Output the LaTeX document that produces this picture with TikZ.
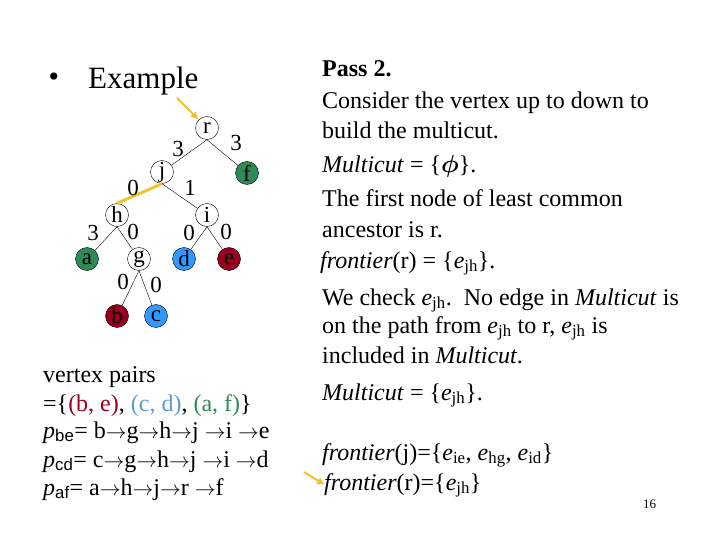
\documentclass[tikz,border=0pt]{standalone}
\usepackage{fontspec}
\setmainfont{Liberation Serif}
\setsansfont{Liberation Sans}
\usepackage{amsmath}
\usepackage{bm}
\usetikzlibrary{positioning,arrows.meta}
\definecolor{mcGreen}{HTML}{2E8B57}
\definecolor{mcBlue}{HTML}{3399FF}
\definecolor{mcRed}{HTML}{99001F}
\definecolor{mcPairBlue}{HTML}{5B9BD5}
\definecolor{mcYellow}{HTML}{F2C12E}
\newcommand{\esub}[1]{\textit{e}\textsubscript{#1}}
\newcommand{\psub}[1]{\textit{p}\textsubscript{\sffamily #1}}
\newcommand{\ar}{{\fontsize{20}{20}\selectfont$\rightarrow$}}
\tikzset{
    mcVertex/.style={
        circle,
        draw,
        thin,
        minimum size=23pt,
        inner sep=0pt,
        font=\fontsize{23}{23}\selectfont
    },
    % Leaf Variants
    leafAF/.style={mcVertex, fill=mcGreen},
    leafCD/.style={mcVertex, fill=mcBlue},
    leafBE/.style={mcVertex, fill=mcRed},
    % Labels
    mcWeight/.style={font=\fontsize{23}{23}\selectfont, inner sep=0pt},
    mcText/.style={anchor=base west, inner sep=0pt, font=\fontsize{24}{24}\selectfont},
    % Lines
    mcEdge/.style={draw, thin},
    mcCut/.style={draw=mcYellow, line width=3pt},
    mcPointer/.style={-{Latex[length=8pt,width=8pt]}, draw=mcYellow, line width=2pt}
}
\begin{document}
\begin{tikzpicture}[x=1pt, y=-1pt]
    \useasboundingbox (0,0) rectangle (720,540);

    % Title
    \node[font=\fontsize{30}{30}\selectfont, inner sep=0pt] (bullet) at (54,80) {•};
    \node[mcText, font=\fontsize{31}{31}\selectfont] (title) at (88,89) {Example};

    % Tree Nodes
    \node[mcVertex] (r) at (207,128) {r};
    \node[mcVertex] (j) at (162,172) {j};
    \node[leafAF] (f) at (247,173) {f};
    \node[mcVertex] (h) at (117,215) {h};
    \node[mcVertex] (i) at (207,215) {i};
    \node[leafAF] (a) at (87,259) {a};
    \node[mcVertex] (g) at (139,259) {g};
    \node[leafCD] (d) at (184,259) {d};
    \node[leafBE] (e) at (229,259) {e};
    \node[leafBE] (b) at (117,316) {b};
    \node[leafCD] (c) at (156,316) {c};

    % Tree Edges
    \draw[mcEdge] (r.south) -- (j);
    \draw[mcEdge] (r.south) -- (f);
    \draw[mcCut] (j.south) -- (h.north);
    \draw[mcEdge] (j.south) -- (i);
    \draw[mcEdge] (h.south) -- (a);
    \draw[mcEdge] (h.south) -- (g);
    \draw[mcEdge] (i.south) -- (d);
    \draw[mcEdge] (i.south) -- (e);
    \draw[mcEdge] (g.south) -- (b);
    \draw[mcEdge] (g.south) -- (c);

    % Edge Weights
    \node[mcWeight] (wrj) at (178,149) {3};
    \node[mcWeight] (wrf) at (236,143) {3};
    \node[mcWeight] (wjh) at (133,188) {0};
    \node[mcWeight] (wji) at (190,188) {1};
    \node[mcWeight] (wha) at (93,233) {3};
    \node[mcWeight] (whg) at (133,232) {0};
    \node[mcWeight] (wid) at (189,233) {0};
    \node[mcWeight] (wie) at (226,232) {0};
    \node[mcWeight] (wgb) at (123,282) {0};
    \node[mcWeight] (wgc) at (156,285) {0};

    % Vertex Pairs
    \node[mcText] (pairs) at (43,382) {vertex pairs};
    \node[mcText] (pairSet) at (43,411) {=\{{\color{mcRed}(b, e)}, {\color{mcPairBlue}(c, d)}, {\color{mcGreen}(a, f)}\}};
    \node[mcText] (pathBE) at (43,438) {\psub{be}= b\ar g\ar h\ar j \ar i \ar e};
    \node[mcText] (pathCD) at (43,467) {\psub{cd}= c\ar g\ar h\ar j \ar i \ar d};
    \node[mcText] (pathAF) at (43,495) {\psub{af}= a\ar h\ar j\ar r \ar f};

    % Pass 2 Text
    \node[mcText] (pass) at (322,77) {\textbf{Pass 2.}};
    \node[mcText] (line1) at (322,109) {Consider the vertex up to down to};
    \node[mcText] (line2) at (322,139) {build the multicut.};
    \node[mcText] (line3) at (322,173) {\textit{Multicut} = \{{\fontsize{30}{30}\selectfont$\bm{\phi}$}\}.};
    \node[mcText] (line4) at (322,207) {The first node of least common};
    \node[mcText] (line5) at (322,237) {ancestor is r.};
    \node[mcText] (line6) at (320,268) {\textit{frontier}(r) = \{\esub{jh}\}.};
    \node[mcText] (line7) at (322,305) {We check \esub{jh}.\ \ No edge in \textit{Multicut} is};
    \node[mcText] (line8) at (322,333) {on the path from \esub{jh} to r, \esub{jh} is};
    \node[mcText] (line9) at (322,363) {included in \textit{Multicut}.};
    \node[mcText] (line10) at (322,400) {\textit{Multicut} = \{\esub{jh}\}.};
    \node[mcText] (frontJ) at (322,460) {\textit{frontier}(j)=\{\esub{ie}, \esub{hg}, \esub{id}\}};
    \node[mcText] (frontR) at (324,490) {\textit{frontier}(r)=\{\esub{jh}\}};
    \node[mcText, font=\fontsize{13}{13}\selectfont] (pageNo) at (643,508) {16};

    % Pointers
    \coordinate (ptrTop) at (177,98);
    \coordinate (ptrLow) at (304,472);
    \coordinate (ptrLowEnd) at (325,485);
    \draw[mcPointer] (ptrTop) -- (r);
    \draw[mcPointer] (ptrLow) -- (ptrLowEnd);
\end{tikzpicture}
\end{document}
